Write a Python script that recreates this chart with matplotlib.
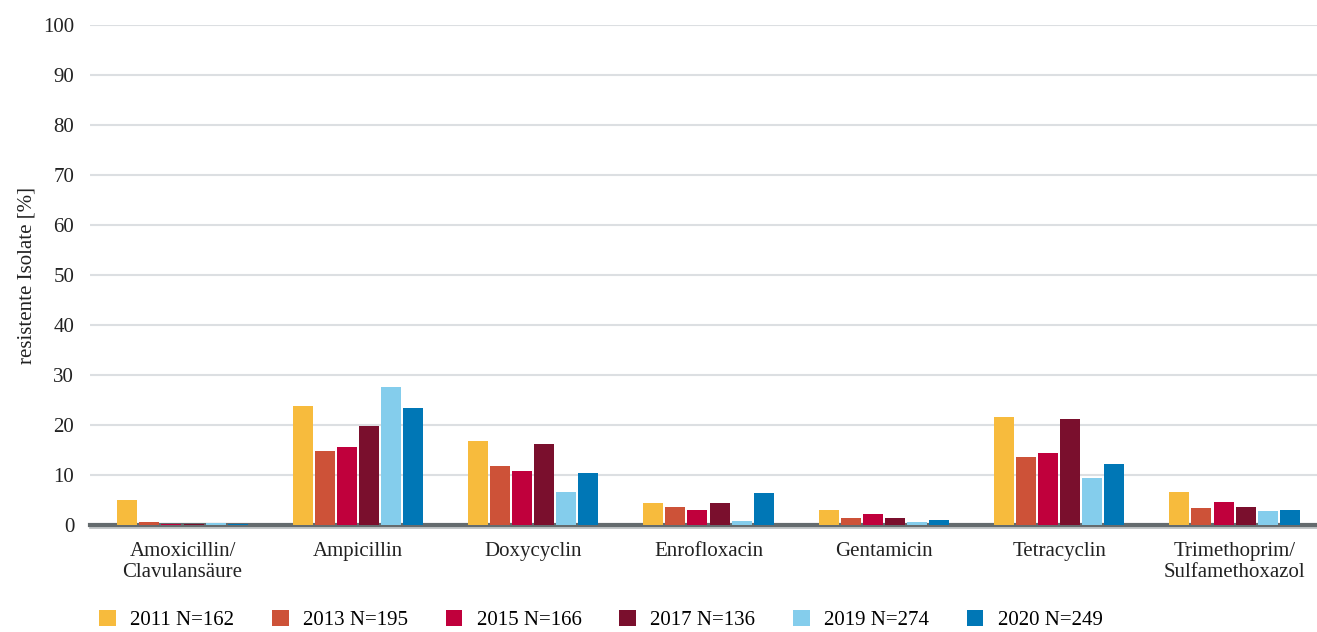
import matplotlib.pyplot as plt
import numpy as np

plt.rcParams['font.family'] = ['Liberation Serif', 'DejaVu Serif']

categories = ['Amoxicillin/\nClavulansäure', 'Ampicillin', 'Doxycyclin', 'Enrofloxacin',
              'Gentamicin', 'Tetracyclin', 'Trimethoprim/\nSulfamethoxazol']
series_labels = ['2011 N=162', '2013 N=195', '2015 N=166', '2017 N=136', '2019 N=274', '2020 N=249']
colors = ['#f7bb3d', '#cd5238', '#c0003c', '#7a0f2d', '#84cdec', '#0077b6']

v2011 = [5.0, 23.8, 16.8, 4.4, 3.1, 21.7, 6.7]
v2013 = [0.6, 14.9, 11.8, 3.6, 1.5, 13.7, 3.5]
v2015 = [0.3, 15.7, 10.8, 3.0, 2.3, 14.5, 4.7]
v2017 = [0.3, 19.9, 16.2, 4.4, 1.5, 21.3, 3.7]
v2019 = [0.4, 27.7, 6.6, 0.8, 0.7, 9.5, 2.9]
v2020 = [0.3, 23.4, 10.4, 6.4, 1.1, 12.3, 3.1]
series = [v2011, v2013, v2015, v2017, v2019, v2020]

fig = plt.figure(figsize=(13.17, 6.32), dpi=100)
ax = fig.add_axes([0.068, 0.169, 0.932, 0.791])

x = np.arange(len(categories))
step = 0.126
width = 0.114
for i, vals in enumerate(series):
    ax.bar(x + (i - 2.5) * step, vals, width, color=colors[i], label=series_labels[i], zorder=5)

ax.set_ylim(0, 100)
ax.set_xlim(-0.53, 6.47)
ax.set_yticks(range(0, 101, 10))
ax.yaxis.grid(True, color='#dcdfe2', lw=1.5, zorder=0)
ax.set_axisbelow(True)
for s in ['top', 'right', 'left']:
    ax.spines[s].set_visible(False)
ax.spines['bottom'].set_color('#646b6e')
ax.spines['bottom'].set_linewidth(3)
ax.spines['bottom'].set_zorder(4)
ax.axhline(-0.5, color='#b8bcbf', lw=1.2, zorder=3, clip_on=False)
ax.tick_params(axis='y', length=0, labelsize=15, pad=11, colors='#222222')
ax.tick_params(axis='x', length=0, labelsize=15, pad=12, colors='#222222')
ax.set_xticks(x)
ax.set_xticklabels(categories, linespacing=1.15)
ax.set_ylabel('resistente Isolate [%]', fontsize=15, labelpad=5, color='#222222')

fig.legend(loc='lower left', bbox_to_anchor=(0.061, -0.027), ncol=6, frameon=False,
           fontsize=15, handlelength=0.8, handleheight=0.8, columnspacing=1.8,
           handletextpad=0.7)

fig.savefig('out.png', dpi=100)
